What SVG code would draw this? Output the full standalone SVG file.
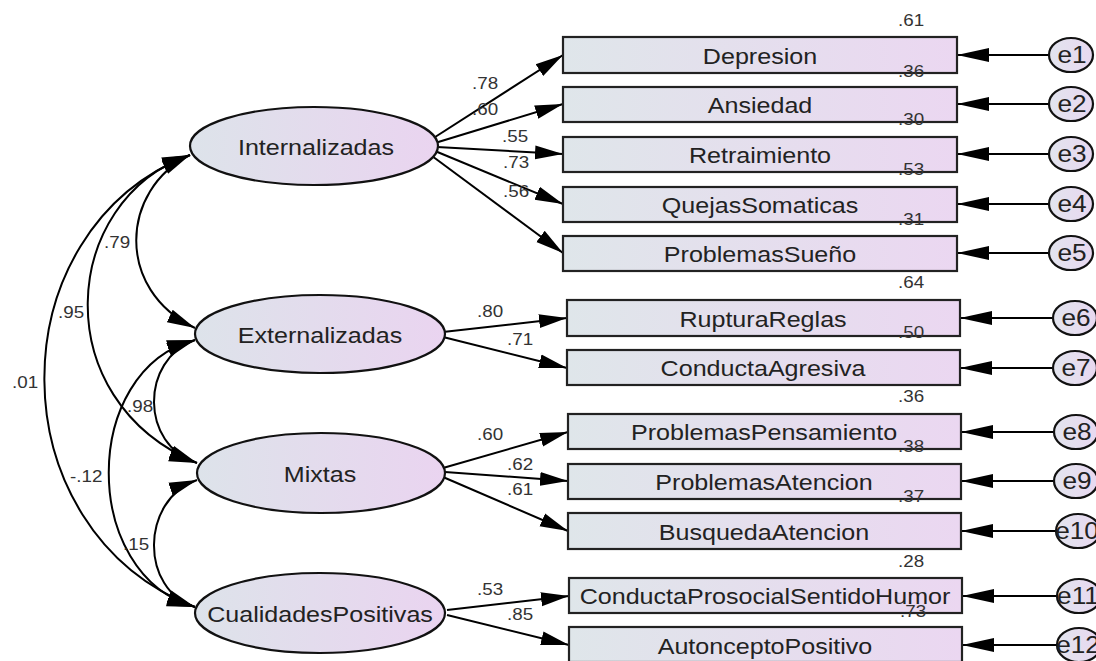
<svg xmlns="http://www.w3.org/2000/svg" width="1096" height="661" viewBox="0 0 1096 661">
<style>
.lbl{font-family:"Liberation Sans",Arial,sans-serif;font-size:22px;fill:#222;text-anchor:middle}
.elbl{font-family:"Liberation Sans",Arial,sans-serif;font-size:23px;fill:#222;text-anchor:middle}
.num{font-family:"Liberation Sans",Arial,sans-serif;font-size:16.5px;fill:#333}
.lat{fill:url(#gL);stroke:#111;stroke-width:2.2}
.obs{fill:url(#gR);stroke:#222;stroke-width:2.2}
.err{fill:url(#gE);stroke:#111;stroke-width:2.2}
.path{fill:none;stroke:#000;stroke-width:2;marker-end:url(#ah)}
.epath{fill:none;stroke:#000;stroke-width:2;marker-end:url(#ah2)}
.cov{fill:none;stroke:#000;stroke-width:2;marker-start:url(#ah);marker-end:url(#ah)}
</style>
<defs>
<linearGradient id="gL" x1="0" y1="0" x2="1" y2="0"><stop offset="0" stop-color="#dde3ea"/><stop offset="1" stop-color="#ead4f0"/></linearGradient>
<linearGradient id="gR" x1="0" y1="0" x2="1" y2="0"><stop offset="0" stop-color="#dfe6ea"/><stop offset="1" stop-color="#ebd7f1"/></linearGradient>
<linearGradient id="gE" x1="0" y1="0" x2="1" y2="0"><stop offset="0" stop-color="#e2e4ee"/><stop offset="1" stop-color="#e8d8f0"/></linearGradient>
<marker id="ah" markerUnits="userSpaceOnUse" markerWidth="28" markerHeight="16" refX="28" refY="8" orient="auto-start-reverse" viewBox="0 0 28 16"><path d="M0,1 L28,8 L0,15 z" fill="#000"/></marker>
<marker id="ah2" markerUnits="userSpaceOnUse" markerWidth="32" markerHeight="16" refX="32" refY="8" orient="auto" viewBox="0 0 32 16"><path d="M0,1 L32,8 L0,15 z" fill="#000"/></marker>
</defs>
<rect width="1096" height="661" fill="#fff"/>

<g id="connectors">
<path class="cov" d="M190,155 C120,190 115,290 195,328"/>
<path class="cov" d="M190,155 C60,200 45,400 197,463"/>
<path class="cov" d="M190,155 C-5,230 -5,530 195,607"/>
<path class="cov" d="M195,340 C140,360 140,445 197,463"/>
<path class="cov" d="M195,340 C80,370 80,575 195,607"/>
<path class="cov" d="M197,480 C140,500 140,590 195,607"/>

<path class="path" d="M432,139 L563,55"/>
<path class="path" d="M435,143 L563,104"/>
<path class="path" d="M437,147 L563,154"/>
<path class="path" d="M435,151 L563,204"/>
<path class="path" d="M432,156 L563,253"/>
<path class="path" d="M443,332 L567,318"/>
<path class="path" d="M443,337 L567,368"/>
<path class="path" d="M443,468 L568,432"/>
<path class="path" d="M445,472 L568,481"/>
<path class="path" d="M443,477 L568,531"/>
<path class="path" d="M447,610 L569,596"/>
<path class="path" d="M447,615 L569,645"/>

<path class="epath" d="M1049,55 L957,55"/>
<path class="epath" d="M1049,104 L957,104"/>
<path class="epath" d="M1049,154 L957,154"/>
<path class="epath" d="M1049,204 L957,204"/>
<path class="epath" d="M1049,253 L957,253"/>
<path class="epath" d="M1053,318 L960,318"/>
<path class="epath" d="M1053,368 L960,368"/>
<path class="epath" d="M1054,432 L961,432"/>
<path class="epath" d="M1054,481 L961,481"/>
<path class="epath" d="M1056,531 L961,531"/>
<path class="epath" d="M1057,596 L962,596"/>
<path class="epath" d="M1057,645 L962,645"/>

<text class="num" transform="translate(104,248) scale(1.14,1)">.79</text>
<text class="num" transform="translate(58,318) scale(1.14,1)">.95</text>
<text class="num" transform="translate(12,388) scale(1.14,1)">.01</text>
<text class="num" transform="translate(127,412) scale(1.14,1)">.98</text>
<text class="num" transform="translate(70,482) scale(1.14,1)">-.12</text>
<text class="num" transform="translate(123,550) scale(1.14,1)">.15</text>

<text class="num" transform="translate(472,89) scale(1.14,1)">.78</text>
<text class="num" transform="translate(472,115) scale(1.14,1)">.60</text>
<text class="num" transform="translate(502,142) scale(1.14,1)">.55</text>
<text class="num" transform="translate(503,168) scale(1.14,1)">.73</text>
<text class="num" transform="translate(503,197) scale(1.14,1)">.56</text>
<text class="num" transform="translate(477,317) scale(1.14,1)">.80</text>
<text class="num" transform="translate(507,345) scale(1.14,1)">.71</text>
<text class="num" transform="translate(477,440) scale(1.14,1)">.60</text>
<text class="num" transform="translate(507,470) scale(1.14,1)">.62</text>
<text class="num" transform="translate(507,495) scale(1.14,1)">.61</text>
<text class="num" transform="translate(477,595) scale(1.14,1)">.53</text>
<text class="num" transform="translate(507,620) scale(1.14,1)">.85</text>
</g>

<g id="Internalizadas"><ellipse class="lat" cx="314" cy="146" rx="124" ry="39"/><text class="lbl" transform="translate(316,155) scale(1.14,1)">Internalizadas</text></g>
<g id="Externalizadas"><ellipse class="lat" cx="320" cy="334" rx="125" ry="39"/><text class="lbl" transform="translate(320,343) scale(1.14,1)">Externalizadas</text></g>
<g id="Mixtas"><ellipse class="lat" cx="321" cy="473" rx="124" ry="40"/><text class="lbl" transform="translate(320,482) scale(1.14,1)">Mixtas</text></g>
<g id="CualidadesPositivas"><ellipse class="lat" cx="320" cy="613" rx="125" ry="40"/><text class="lbl" transform="translate(320,622) scale(1.14,1)">CualidadesPositivas</text></g>

<g id="Depresion"><rect class="obs" x="563" y="37" width="394" height="36"/><text class="lbl" transform="translate(760,64) scale(1.14,1)">Depresion</text><text class="num" transform="translate(898,26) scale(1.14,1)">.61</text></g>
<g id="Ansiedad"><rect class="obs" x="563" y="87" width="394" height="35"/><text class="lbl" transform="translate(760,113) scale(1.14,1)">Ansiedad</text><text class="num" transform="translate(898,77) scale(1.14,1)">.36</text></g>
<g id="Retraimiento"><rect class="obs" x="563" y="137" width="394" height="35"/><text class="lbl" transform="translate(760,163) scale(1.14,1)">Retraimiento</text><text class="num" transform="translate(898,125) scale(1.14,1)">.30</text></g>
<g id="QuejasSomaticas"><rect class="obs" x="563" y="187" width="394" height="35"/><text class="lbl" transform="translate(760,213) scale(1.14,1)">QuejasSomaticas</text><text class="num" transform="translate(898,175) scale(1.14,1)">.53</text></g>
<g id="ProblemasSueno"><rect class="obs" x="563" y="236" width="394" height="35"/><text class="lbl" transform="translate(760,262) scale(1.14,1)">ProblemasSueño</text><text class="num" transform="translate(898,225) scale(1.14,1)">.31</text></g>
<g id="RupturaReglas"><rect class="obs" x="567" y="300" width="393" height="36"/><text class="lbl" transform="translate(763,327) scale(1.14,1)">RupturaReglas</text><text class="num" transform="translate(898,288) scale(1.14,1)">.64</text></g>
<g id="ConductaAgresiva"><rect class="obs" x="567" y="350" width="393" height="35"/><text class="lbl" transform="translate(763,376) scale(1.14,1)">ConductaAgresiva</text><text class="num" transform="translate(898,338) scale(1.14,1)">.50</text></g>
<g id="ProblemasPensamiento"><rect class="obs" x="568" y="414" width="393" height="35"/><text class="lbl" transform="translate(764,440) scale(1.14,1)">ProblemasPensamiento</text><text class="num" transform="translate(898,402) scale(1.14,1)">.36</text></g>
<g id="ProblemasAtencion"><rect class="obs" x="568" y="464" width="393" height="35"/><text class="lbl" transform="translate(764,490) scale(1.14,1)">ProblemasAtencion</text><text class="num" transform="translate(898,452) scale(1.14,1)">.38</text></g>
<g id="BusquedaAtencion"><rect class="obs" x="568" y="513" width="393" height="36"/><text class="lbl" transform="translate(764,540) scale(1.14,1)">BusquedaAtencion</text><text class="num" transform="translate(898,502) scale(1.14,1)">.37</text></g>
<g id="ConductaProsocialSentidoHumor"><rect class="obs" x="569" y="578" width="393" height="35"/><text class="lbl" transform="translate(765,604) scale(1.14,1)">ConductaProsocialSentidoHumor</text><text class="num" transform="translate(898,567) scale(1.14,1)">.28</text></g>
<g id="AutonceptoPositivo"><rect class="obs" x="569" y="627" width="393" height="35"/><text class="lbl" transform="translate(765,654) scale(1.14,1)">AutonceptoPositivo</text><text class="num" transform="translate(900,617) scale(1.14,1)">.73</text></g>

<g id="e1"><ellipse class="err" cx="1071" cy="55" rx="22" ry="17"/><text class="elbl" transform="translate(1072,63) scale(1.14,1)">e1</text></g>
<g id="e2"><ellipse class="err" cx="1071" cy="104" rx="22" ry="17"/><text class="elbl" transform="translate(1072,112) scale(1.14,1)">e2</text></g>
<g id="e3"><ellipse class="err" cx="1071" cy="154" rx="22" ry="17"/><text class="elbl" transform="translate(1072,162) scale(1.14,1)">e3</text></g>
<g id="e4"><ellipse class="err" cx="1071" cy="204" rx="22" ry="17"/><text class="elbl" transform="translate(1072,212) scale(1.14,1)">e4</text></g>
<g id="e5"><ellipse class="err" cx="1071" cy="253" rx="22" ry="17"/><text class="elbl" transform="translate(1072,261) scale(1.14,1)">e5</text></g>
<g id="e6"><ellipse class="err" cx="1075" cy="318" rx="22" ry="17"/><text class="elbl" transform="translate(1076,326) scale(1.14,1)">e6</text></g>
<g id="e7"><ellipse class="err" cx="1075" cy="368" rx="22" ry="17"/><text class="elbl" transform="translate(1076,376) scale(1.14,1)">e7</text></g>
<g id="e8"><ellipse class="err" cx="1076" cy="432" rx="22" ry="17"/><text class="elbl" transform="translate(1077,440) scale(1.14,1)">e8</text></g>
<g id="e9"><ellipse class="err" cx="1076" cy="481" rx="22" ry="17"/><text class="elbl" transform="translate(1077,489) scale(1.14,1)">e9</text></g>
<g id="e10"><ellipse class="err" cx="1078" cy="531" rx="22" ry="17"/><text class="elbl" transform="translate(1077,539) scale(1.14,1)">e10</text></g>
<g id="e11"><ellipse class="err" cx="1079" cy="596" rx="22" ry="17"/><text class="elbl" transform="translate(1078,604) scale(1.14,1)">e11</text></g>
<g id="e12"><ellipse class="err" cx="1079" cy="645" rx="22" ry="17"/><text class="elbl" transform="translate(1078,653) scale(1.14,1)">e12</text></g>
</svg>
